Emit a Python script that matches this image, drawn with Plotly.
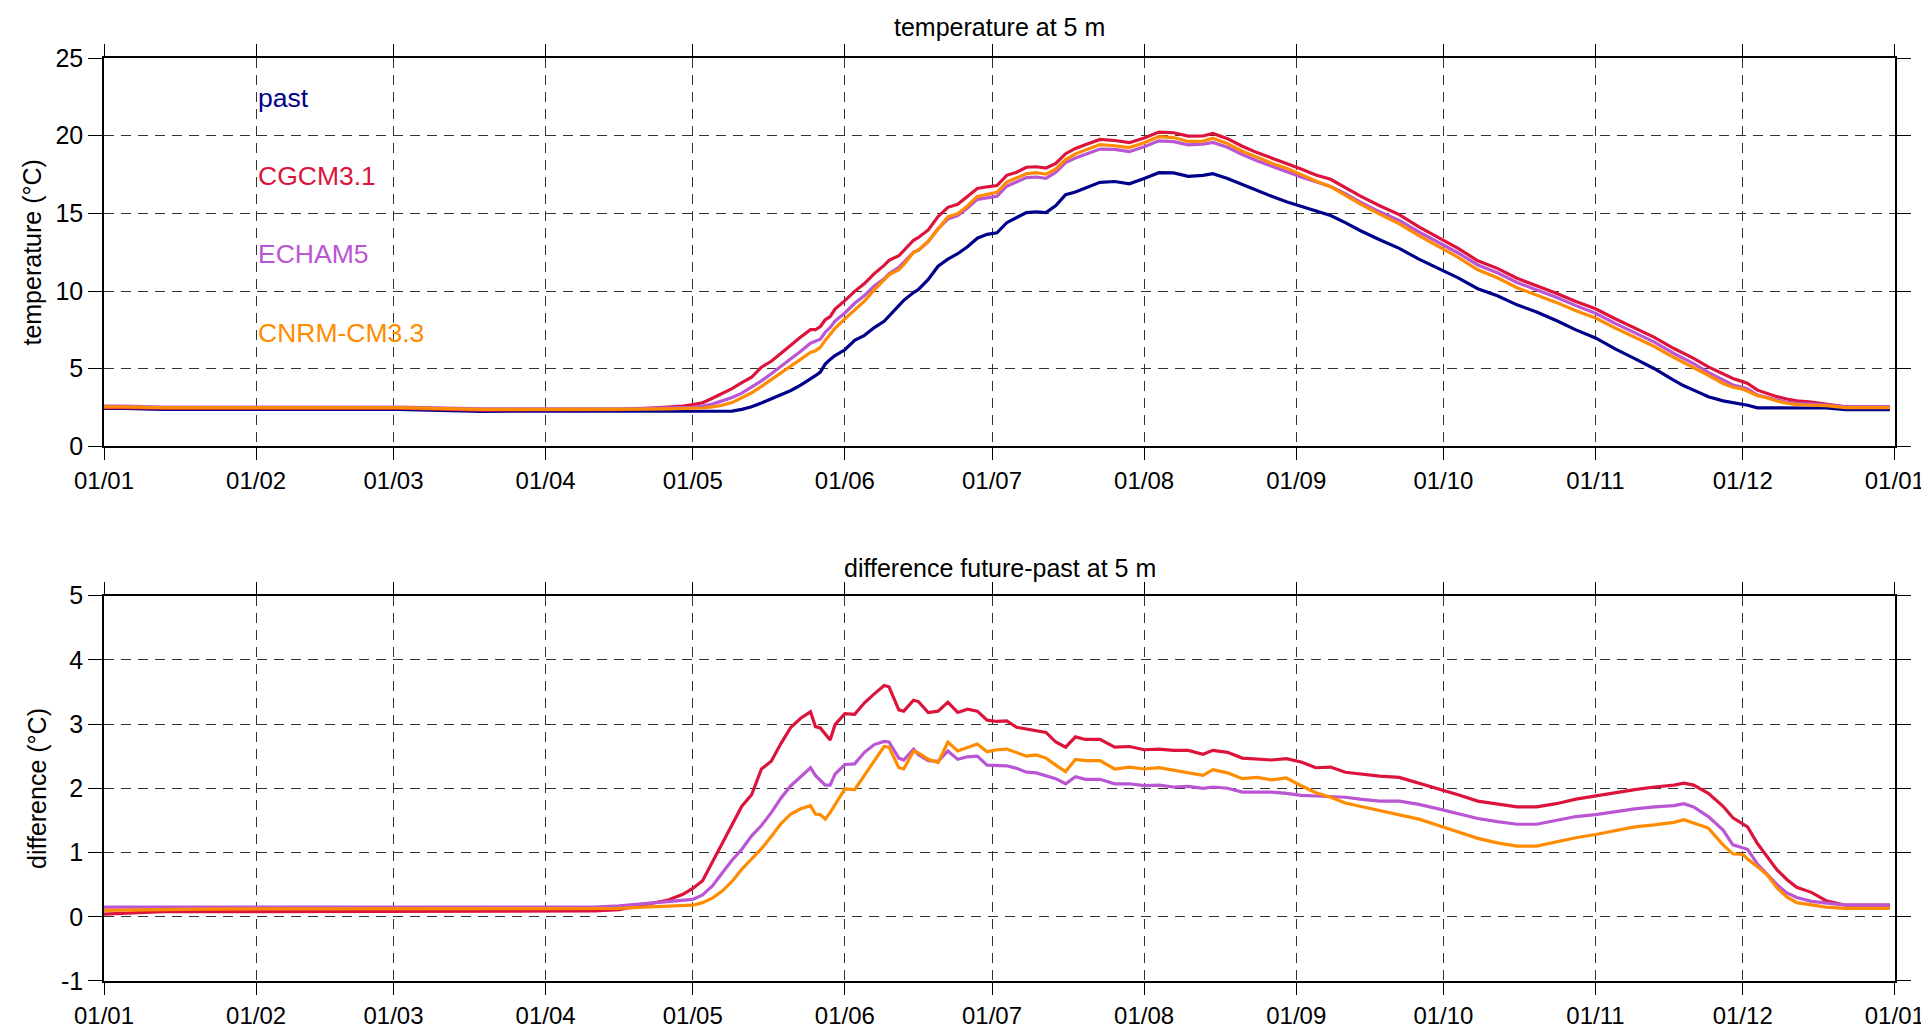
import numpy as np
import pandas as pd
import plotly.graph_objects as go
from plotly.subplots import make_subplots

# day of year (0 = 1 January) at which the curves were read
days = [0, 4, 12, 20, 40, 60, 77, 90, 100, 105, 110, 115, 118, 120, 122, 124, 126, 128,
        130, 132, 134, 136, 138, 140, 142, 144, 145, 146, 147, 148, 149, 151, 153, 155,
        157, 159, 160, 162, 163, 165, 166, 168, 170, 172, 174, 176, 178, 180, 182, 184,
        186, 188, 190, 192, 194, 196, 198, 200, 203, 206, 209, 212, 215, 218, 221, 224,
        226, 229, 232, 235, 238, 241, 244, 247, 250, 253, 256, 260, 264, 268, 272, 276,
        280, 284, 288, 292, 296, 300, 304, 308, 312, 316, 320, 322, 324, 327, 330, 332,
        334, 335, 337, 339, 341, 343, 345, 348, 351, 355, 360, 364]

# past temperature at 5 m (°C)
past = [2.45, 2.45, 2.38, 2.38, 2.38, 2.38, 2.26, 2.25, 2.25, 2.25, 2.25, 2.25, 2.25, 2.25,
        2.25, 2.25, 2.25, 2.27, 2.38, 2.55, 2.80, 3.06, 3.30, 3.60, 3.95, 4.32, 4.55, 4.78,
        5.30, 5.60, 5.85, 6.22, 6.83, 7.15, 7.65, 8.05, 8.40, 9.05, 9.40, 9.90, 10.10, 10.75,
        11.60, 12.05, 12.40, 12.85, 13.40, 13.65, 13.75, 14.40, 14.70, 15.05, 15.10, 15.05,
        15.50, 16.20, 16.38, 16.65, 17.00, 17.05, 16.90, 17.25, 17.62, 17.60, 17.38, 17.45,
        17.55, 17.25, 16.85, 16.45, 16.10, 15.75, 15.45, 15.15, 14.86, 14.40, 13.90, 13.30,
        12.75, 12.05, 11.45, 10.85, 10.15, 9.70, 9.11, 8.65, 8.10, 7.50, 6.98, 6.28, 5.65,
        5.00, 4.25, 3.90, 3.62, 3.20, 2.93, 2.83, 2.72, 2.65, 2.48, 2.47, 2.47, 2.47, 2.47,
        2.47, 2.47, 2.36, 2.36, 2.36]

# difference future-past (°C)
diff_cgcm = [0.04, 0.05, 0.08, 0.08, 0.08, 0.08, 0.08, 0.08, 0.09, 0.11, 0.18, 0.26, 0.35,
             0.44, 0.56, 0.85, 1.15, 1.45, 1.72, 1.90, 2.30, 2.42, 2.70, 2.95, 3.09, 3.19,
             2.96, 2.94, 2.85, 2.75, 2.99, 3.16, 3.15, 3.33, 3.47, 3.60, 3.58, 3.22, 3.20,
             3.37, 3.35, 3.18, 3.20, 3.34, 3.18, 3.23, 3.20, 3.06, 3.04, 3.05, 2.95, 2.92,
             2.90, 2.87, 2.72, 2.64, 2.80, 2.76, 2.76, 2.64, 2.65, 2.60, 2.61, 2.59, 2.59,
             2.53, 2.59, 2.56, 2.47, 2.46, 2.44, 2.46, 2.41, 2.32, 2.33, 2.25, 2.22, 2.19,
             2.17, 2.08, 2.00, 1.90, 1.80, 1.76, 1.71, 1.71, 1.76, 1.83, 1.88, 1.94, 1.98,
             2.02, 2.05, 2.08, 2.05, 1.92, 1.72, 1.54, 1.45, 1.40, 1.14, 0.93, 0.73, 0.58,
             0.46, 0.38, 0.25, 0.18, 0.18, 0.18]

diff_echam = [0.15, 0.15, 0.15, 0.15, 0.15, 0.15, 0.15, 0.15, 0.15, 0.17, 0.20, 0.23, 0.25,
              0.27, 0.34, 0.48, 0.68, 0.88, 1.05, 1.26, 1.42, 1.62, 1.85, 2.04, 2.18, 2.32,
              2.20, 2.12, 2.05, 2.05, 2.22, 2.37, 2.38, 2.56, 2.68, 2.73, 2.72, 2.47, 2.44,
              2.61, 2.52, 2.43, 2.42, 2.58, 2.45, 2.49, 2.50, 2.36, 2.35, 2.35, 2.31, 2.25,
              2.24, 2.20, 2.15, 2.07, 2.18, 2.14, 2.14, 2.07, 2.07, 2.04, 2.05, 2.02, 2.03,
              2.00, 2.02, 2.00, 1.94, 1.94, 1.94, 1.92, 1.89, 1.88, 1.87, 1.86, 1.83, 1.80,
              1.80, 1.75, 1.68, 1.60, 1.53, 1.48, 1.44, 1.44, 1.50, 1.56, 1.59, 1.64, 1.68,
              1.71, 1.73, 1.76, 1.71, 1.56, 1.35, 1.12, 1.08, 1.05, 0.82, 0.66, 0.50, 0.37,
              0.30, 0.24, 0.21, 0.18, 0.18, 0.18]

diff_cnrm = [0.10, 0.10, 0.11, 0.12, 0.12, 0.12, 0.12, 0.12, 0.12, 0.13, 0.15, 0.16, 0.17,
             0.18, 0.22, 0.29, 0.40, 0.55, 0.74, 0.90, 1.06, 1.25, 1.45, 1.60, 1.68, 1.73,
             1.60, 1.59, 1.52, 1.62, 1.75, 1.99, 1.98, 2.20, 2.42, 2.65, 2.64, 2.32, 2.30,
             2.58, 2.55, 2.45, 2.40, 2.72, 2.58, 2.63, 2.69, 2.57, 2.60, 2.61, 2.56, 2.50,
             2.52, 2.47, 2.36, 2.26, 2.45, 2.43, 2.43, 2.30, 2.33, 2.30, 2.32, 2.28, 2.25,
             2.20, 2.29, 2.24, 2.15, 2.17, 2.13, 2.16, 2.04, 1.93, 1.86, 1.77, 1.72, 1.65,
             1.58, 1.52, 1.42, 1.32, 1.22, 1.15, 1.10, 1.10, 1.17, 1.23, 1.28, 1.34, 1.40,
             1.43, 1.47, 1.51, 1.46, 1.38, 1.12, 0.98, 0.97, 0.90, 0.78, 0.65, 0.45, 0.31,
             0.22, 0.18, 0.15, 0.13, 0.13, 0.13]

month_ticks = ["2001-%02d-01" % m for m in range(1, 13)] + ["2002-01-01"]
month_labels = ["01/%02d" % m for m in range(1, 13)] + ["01/01"]
temp_ticks = [0, 5, 10, 15, 20, 25]
diff_ticks = [-1, 0, 1, 2, 3, 4, 5]

models = ["CGCM3.1", "ECHAM5", "CNRM-CM3.3"]
colors = {"past": "#00008B", "CGCM3.1": "#DC143C", "ECHAM5": "#BA55D3", "CNRM-CM3.3": "#FF8C00"}
diffs = {"CGCM3.1": diff_cgcm, "ECHAM5": diff_echam, "CNRM-CM3.3": diff_cnrm}

dates = pd.Timestamp("2001-01-01") + pd.to_timedelta(days, unit="D")
past_arr = np.array(past)

fig = make_subplots(rows=2, cols=1, vertical_spacing=0.0)

fig.add_trace(go.Scatter(x=dates, y=past, mode="lines", name="past",
                         line=dict(color=colors["past"], width=3.2)), row=1, col=1)
for m in models:
    # future temperature = past + (future - past)
    fig.add_trace(go.Scatter(x=dates, y=past_arr + np.array(diffs[m]), mode="lines", name=m,
                             line=dict(color=colors[m], width=3.2)), row=1, col=1)
for m in models:
    fig.add_trace(go.Scatter(x=dates, y=diffs[m], mode="lines", name=m,
                             line=dict(color=colors[m], width=3.2)), row=2, col=1)

reg = "Liberation Sans, Arial"

xax = dict(type="date", range=["2001-01-01", "2002-01-01 01:00"], tickmode="array",
           tickvals=month_ticks, ticktext=month_labels,
           showline=True, linecolor="black", linewidth=1.5, mirror="ticks",
           ticks="outside", ticklen=12, tickwidth=1.3, tickcolor="black",
           showgrid=True, gridcolor="#333333", gridwidth=1.3, griddash="10px,7px",
           tickfont=dict(family=reg, size=24, color="black"), zeroline=False)
yax = dict(showline=True, linecolor="black", linewidth=1.5, mirror="ticks",
           ticks="outside", ticklen=14, tickwidth=1.3, tickcolor="black",
           showgrid=True, gridcolor="#333333", gridwidth=1.3, griddash="10px,7px",
           tickfont=dict(family=reg, size=25, color="black"), zeroline=False,
           tickmode="array")

fig.update_xaxes(**xax)
fig.update_yaxes(**yax)
fig.update_yaxes(range=[0, 25], tickvals=temp_ticks, ticktext=[str(v) for v in temp_ticks],
                 domain=[0.5792, 1.0], row=1, col=1)
fig.update_yaxes(range=[-1, 5], tickvals=diff_ticks, ticktext=[str(v) for v in diff_ticks],
                 domain=[0.0, 0.4176], row=2, col=1)

ann = []
ann.append(dict(text="temperature at 5 m", xref="x domain", yref="y domain", x=0.5, y=1.08,
                showarrow=False, font=dict(family=reg, size=25, color="black"), yanchor="middle"))
ann.append(dict(text="difference future-past at 5 m", xref="x2 domain", yref="y2 domain", x=0.5,
                y=1.072, showarrow=False, font=dict(family=reg, size=25, color="black"),
                yanchor="middle"))
ann.append(dict(text="temperature (°C)", xref="x domain", yref="y domain", x=-0.040, y=0.5,
                textangle=-90, showarrow=False, font=dict(family=reg, size=25, color="black"),
                xanchor="center", yanchor="middle"))
ann.append(dict(text="difference (°C)", xref="x2 domain", yref="y2 domain", x=-0.037, y=0.5,
                textangle=-90, showarrow=False, font=dict(family=reg, size=25, color="black"),
                xanchor="center", yanchor="middle"))

legend_names = ["past"] + models
legend_y = [22.4, 17.4, 12.4, 7.3]
for name, yv in zip(legend_names, legend_y):
    ann.append(dict(text=name, xref="x", yref="y", x="2001-02-01", y=yv, xanchor="left",
                    yanchor="middle", showarrow=False,
                    font=dict(family=reg, size=26.5, color=colors[name])))

fig.update_layout(
    width=1929, height=1033,
    margin=dict(l=96, r=33, t=50, b=49),
    plot_bgcolor="white", paper_bgcolor="white",
    showlegend=False,
    annotations=ann,
)

fig.write_html("out.html")
